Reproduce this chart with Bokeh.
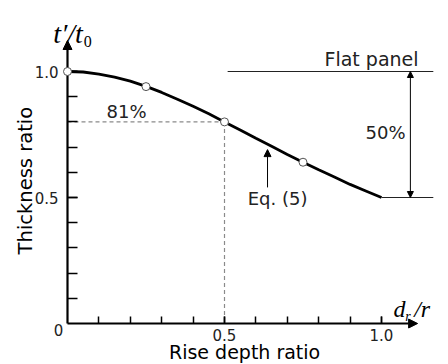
import math
from bokeh.plotting import figure
from bokeh.models import (Range1d, FixedTicker, NumeralTickFormatter, Arrow, NormalHead,
                          LinearAxis)
from bokeh.core.properties import value
from bokeh.embed import file_html
from bokeh.resources import INLINE

# ---- data ----
curve_x = [0.0, 0.05, 0.1, 0.15, 0.2, 0.25, 0.3, 0.35, 0.4, 0.45, 0.5,
           0.55, 0.6, 0.65, 0.7, 0.75, 0.8, 0.85, 0.9, 0.95, 1.0]
curve_y = [1.0, 0.998, 0.99, 0.978, 0.962, 0.941, 0.917, 0.89, 0.862, 0.832, 0.80,
           0.768, 0.735, 0.703, 0.671, 0.64, 0.61, 0.581, 0.552, 0.526, 0.50]
marker_x = [0.0, 0.25, 0.5, 0.75]
marker_y = [1.0, 0.94, 0.80, 0.64]
major_ticks = [0.5, 1.0]
minor_ticks = [0.1, 0.2, 0.3, 0.4, 0.5, 0.6, 0.7, 0.8, 0.9, 1.0]
ref_x, ref_y = 0.5, 0.8          # 81% guide point
flat_y, end_y = 1.0, 0.5          # flat panel level / curve end level

FONT = "DejaVu Sans"
SERIF = "Liberation Serif"

p = figure(width=448, height=364, output_backend="svg", toolbar_location=None,
           x_axis_location=None, y_axis_location=None,
           x_range=Range1d(-67 / 314, 381 / 314), y_range=Range1d(-41 / 252, 323 / 252),
           min_border=0)
p.outline_line_color = None
p.grid.visible = False
p.background_fill_color = "white"

xax = LinearAxis(fixed_location=0)
yax = LinearAxis(fixed_location=0)
p.add_layout(xax, "below")
p.add_layout(yax, "left")

for ax, tin in ((xax, 7), (yax, 10)):
    ax.ticker = FixedTicker(ticks=major_ticks, minor_ticks=minor_ticks)
    ax.formatter = NumeralTickFormatter(format="0.0")
    ax.axis_line_color = None
    ax.major_tick_in = tin
    ax.major_tick_out = 0
    ax.minor_tick_in = tin
    ax.minor_tick_out = 0
    ax.major_tick_line_width = 1.5
    ax.minor_tick_line_width = 1.5
    ax.major_tick_line_color = "black"
    ax.minor_tick_line_color = "black"
    ax.major_label_text_font = FONT
    ax.major_label_text_font_size = "15px"
    ax.major_label_text_color = "#222222"
xax.major_label_standoff = 5
yax.major_label_standoff = 9

# axes as arrows
p.add_layout(Arrow(end=NormalHead(size=9, fill_color="black", line_color="black"),
                   x_start=0, y_start=0, x_end=1.115, y_end=0, line_width=2.2, line_color="black"))
p.add_layout(Arrow(end=NormalHead(size=9, fill_color="black", line_color="black"),
                   x_start=0, y_start=0, x_end=0, y_end=1.123, line_width=2.2, line_color="black"))

# dashed guides
p.segment(x0=[0, ref_x], y0=[ref_y, ref_y], x1=[ref_x, ref_x], y1=[ref_y, 0],
          line_color="#8a8a8a", line_dash="4 3", line_width=1.2)

# flat panel reference lines
p.segment(x0=[0.51, 1.0], y0=[flat_y, end_y], x1=[1.165, 1.165], y1=[flat_y, end_y],
          line_color="#222222", line_width=1.2)

# curve and markers
p.line(curve_x, curve_y, line_color="black", line_width=2.8)
p.scatter(marker_x, marker_y, marker="circle", size=8, fill_color="white",
          line_color="#555555", line_width=1, level="overlay")

# 50% double arrow
p.add_layout(Arrow(start=NormalHead(size=6, fill_color="black", line_color="black"),
                   end=NormalHead(size=6, fill_color="black", line_color="black"),
                   x_start=1.092, y_start=end_y, x_end=1.092, y_end=flat_y,
                   line_width=1, line_color="black"))
# Eq. (5) arrow
p.add_layout(Arrow(end=NormalHead(size=7, fill_color="black", line_color="black"),
                   x_start=0.637, y_start=0.54, x_end=0.637, y_end=0.69,
                   line_width=1, line_color="black"))

def txt(x, y, s, size, font=FONT, align="center", baseline="middle", style="normal",
        angle=0.0, color="#222222"):
    p.text(x=[x], y=[y], text=[s], text_font=value(font), text_font_size=size,
           text_align=align, text_baseline=baseline, text_font_style=style,
           angle=angle, text_color=color)

# annotations
txt(0.188, 0.841, "81%", "18px")
txt(0.669, 0.496, "Eq. (5)", "18px")
txt(1.013, 0.758, "50%", "18px")
txt(1.118, 1.048, "Flat panel", "19px", align="right")

# axis titles
txt(0.564, -0.115, "Rise depth ratio", "19px", color="black")
txt(-0.134, 0.567, "Thickness ratio", "19.5px", angle=math.pi / 2, color="black")
txt(-0.0287, -0.024, "0", "15px")

# math labels t'/t0 and d_r/r
txt(-0.045, 1.151, "t\u2032/t", "28px", font=SERIF, style="italic", align="left",
    baseline="alphabetic", color="black")
txt(0.052, 1.12, "0", "16px", font=SERIF, align="left", baseline="alphabetic", color="black")
txt(1.038, 0.056, "d", "24px", font=SERIF, style="italic", align="left",
    baseline="alphabetic", color="black")
txt(1.076, 0.026, "r", "14px", font=SERIF, style="italic", align="left",
    baseline="alphabetic", color="black")
txt(1.104, 0.056, "/r", "24px", font=SERIF, style="italic", align="left",
    baseline="alphabetic", color="black")

open("out.html", "w").write(file_html(p, INLINE))
